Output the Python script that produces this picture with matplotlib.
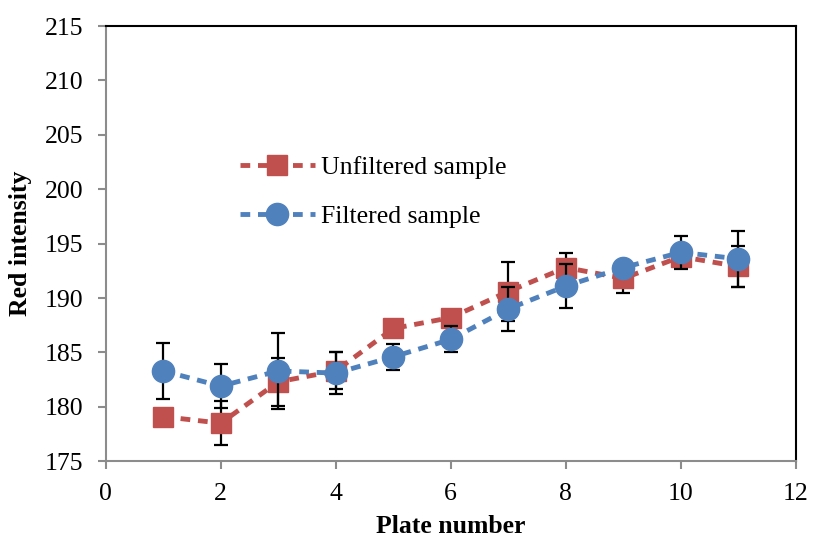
import matplotlib
matplotlib.use('Agg')
import matplotlib.pyplot as plt

plates = [1, 2, 3, 4, 5, 6, 7, 8, 9, 10, 11]
unfiltered = [179.1, 178.5, 182.3, 183.3, 187.2, 188.2, 190.6, 192.8, 191.8, 193.8, 192.9]
unfiltered_err = [0.3, 2.0, 2.2, 1.7, 0.5, 0.5, 2.7, 1.3, 1.3, 1.0, 1.9]
filtered = [183.3, 181.9, 183.3, 183.1, 184.6, 186.2, 189.0, 191.1, 192.8, 194.2, 193.6]
filtered_err = [2.6, 2.0, 3.5, 1.9, 1.2, 1.2, 2.0, 2.0, 0.3, 1.5, 2.6]

red = '#C0504D'
blue = '#4F81BD'
grey = '#8C8C8C'

plt.rcParams['font.family'] = ['Liberation Serif', 'DejaVu Serif']

fig = plt.figure(figsize=(8.13, 5.42), dpi=100)
ax = fig.add_axes([0.130, 0.149, 0.849, 0.803])

dash = (0, (2.0, 1.6))
ax.errorbar(plates, unfiltered, yerr=unfiltered_err, color=red, linestyle=dash,
            linewidth=3.5, marker='s', markersize=14, ecolor='black', elinewidth=1.6,
            capsize=5, capthick=1.6, label='Unfiltered sample', zorder=3)
ax.errorbar(plates, filtered, yerr=filtered_err, color=blue, linestyle=dash,
            linewidth=3.5, marker='o', markersize=16, ecolor='black', elinewidth=1.6,
            capsize=5, capthick=1.6, label='Filtered sample', zorder=4)

ax.set_xlim(0, 12)
ax.set_ylim(175, 215)
ax.set_xticks(range(0, 13, 2))
ax.set_yticks(range(175, 216, 5))

ax.set_xlabel('Plate number', fontsize=18.5, fontweight='bold', labelpad=7)
ax.set_ylabel('Red intensity', fontsize=18.5, fontweight='bold', labelpad=9)

for side in ['left', 'bottom']:
    ax.spines[side].set_color(grey)
    ax.spines[side].set_linewidth(1.5)
for side in ['top', 'right']:
    ax.spines[side].set_color('black')
    ax.spines[side].set_linewidth(1.5)
ax.tick_params(direction='out', length=6, width=1.5, color=grey, labelsize=18.5)
ax.tick_params(axis='y', pad=10)
ax.tick_params(axis='x', pad=10)

handles, labels = ax.get_legend_handles_labels()
handles = [h[0] for h in handles]
ax.legend(handles, labels, loc='upper left', bbox_to_anchor=(0.18, 0.725), frameon=False,
          fontsize=18.5, handlelength=2.9, handletextpad=0.25, labelspacing=1.0,
          borderaxespad=0)

fig.savefig('out.png', dpi=100)
